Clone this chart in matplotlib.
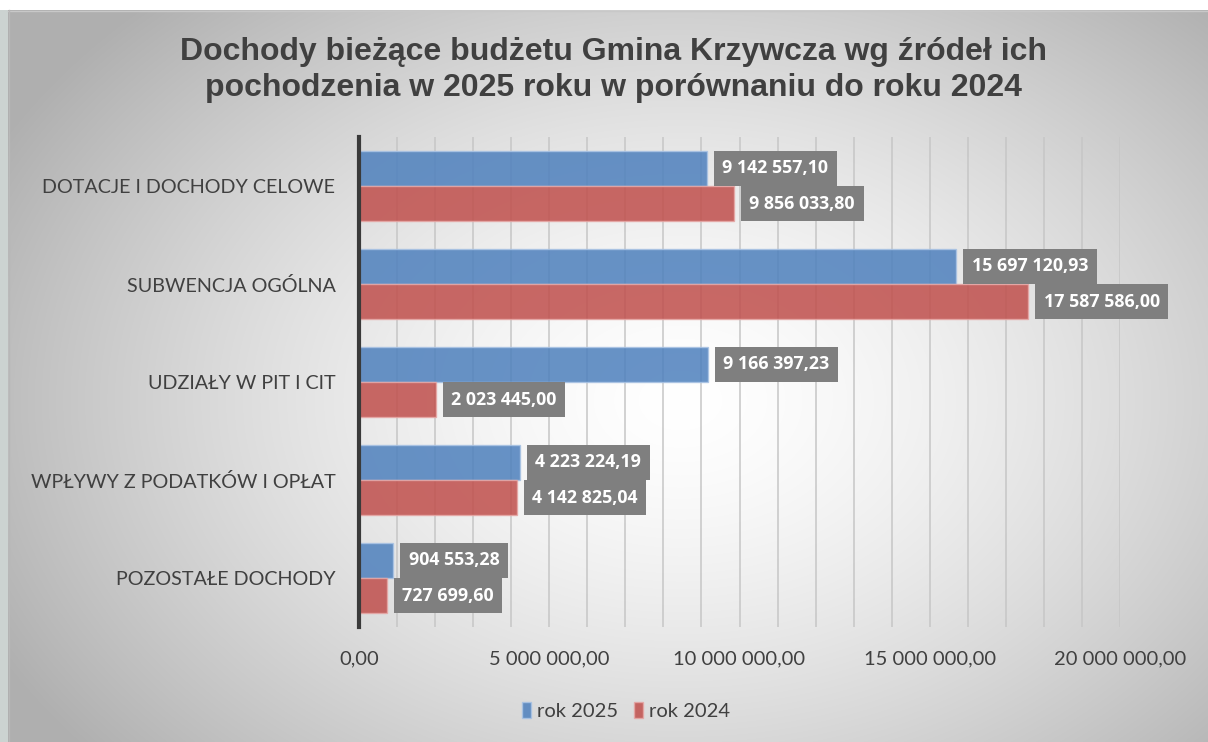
import numpy as np
import matplotlib
matplotlib.use("Agg")
import matplotlib.pyplot as plt

# ---- data ----
categories = ["DOTACJE I DOCHODY CELOWE", "SUBWENCJA OGÓLNA", "UDZIAŁY W PIT I CIT",
              "WPŁYWY Z PODATKÓW I OPŁAT", "POZOSTAŁE DOCHODY"]
rok_2025 = [9142557.10, 15697120.93, 9166397.23, 4223224.19, 904553.28]
rok_2024 = [9856033.80, 17587586.00, 2023445.00, 4142825.04, 727699.60]
series_names = ["rok 2025", "rok 2024"]
x_ticks = [0, 5000000, 10000000, 15000000, 20000000]
title = "Dochody bieżące budżetu Gmina Krzywcza wg źródeł ich\npochodzenia w 2025 roku w porównaniu do roku 2024"

def fmt(v):
    s = f"{v:,.2f}"
    return s.replace(",", " ").replace(".", ",")

W, H = 1208, 742
fig = plt.figure(figsize=(W / 100, H / 100), dpi=100)

# ---- background (radial gradient panel) ----
bg = fig.add_axes([0, 0, 1, 1], zorder=-10)
yy, xx = np.mgrid[0:H, 0:W]
d = np.sqrt(((xx - 680) / 700.0) ** 2 + ((yy - 400) / 500.0) ** 2)
val = 1.0 - 0.27 * np.clip(d, 0, 1.1) ** 1.5
img = np.dstack([val, val, val])
img[:, :8, 0] = 0.80
img[:, :8, 1] = 0.83
img[:, :8, 2] = 0.82
img[:10, :, :] = 1.0
bg.imshow(img, extent=[0, W, H, 0], aspect="auto", interpolation="bilinear")
bg.plot([8, W], [10.5, 10.5], color="#c8c8c8", lw=1)
bg.plot([8.5, 8.5], [10, H], color="#b8b8b8", lw=1)
bg.set_xlim(0, W); bg.set_ylim(H, 0)
bg.axis("off")

# ---- main axes ----
ax = fig.add_axes([359 / W, 1 - 627 / H, (1120 - 359) / W, (627 - 137) / H])
ax.patch.set_alpha(0)

y = np.arange(len(categories))
h = 0.355
blue = "#4F81BD"
red = "#C0504D"
ax.barh(y - h / 2 - 0.005, rok_2025, height=h, color=blue, alpha=0.86,
        edgecolor="#a9c3e4", linewidth=1, zorder=3, label=series_names[0])
ax.barh(y + h / 2 + 0.005, rok_2024, height=h, color=red, alpha=0.86,
        edgecolor="#e6a7a5", linewidth=1, zorder=3, label=series_names[1])

ax.set_xlim(0, 20000000)
ax.set_ylim(-0.5, len(categories) - 0.5)
ax.invert_yaxis()

ax.set_xticks(np.arange(0, 20000001, 1000000), minor=True)
ax.set_xticks(x_ticks)
ax.set_xticklabels([fmt(v) for v in x_ticks])
ax.grid(axis="x", which="both", color="#c6c6c6", lw=1.1, zorder=1)
ax.set_yticks(y)
ax.set_yticklabels(categories)

ax.tick_params(axis="x", which="both", length=0, pad=17, labelsize=14.5, labelcolor="#404040")
ax.tick_params(axis="y", length=0, pad=17, labelsize=14.2, labelcolor="#404040")
for lab in ax.get_xticklabels() + ax.get_yticklabels():
    lab.set_fontfamily("Lato")

for s in ["top", "right", "bottom"]:
    ax.spines[s].set_visible(False)
ax.spines["left"].set_color("#3a3a3a")
ax.spines["left"].set_linewidth(3)
ax.spines["left"].set_zorder(5)

# ---- data labels ----
fs = 12.8
pad = 0.48
for vals, off in [(rok_2025, -h / 2 - 0.005), (rok_2024, h / 2 + 0.005)]:
    for yi, v in zip(y, vals):
        ax.annotate(fmt(v), xy=(v, yi + off), xytext=(5.0 + pad * fs, 0),
                    textcoords="offset points", ha="left", va="center",
                    fontsize=fs, fontweight="bold", family="Open Sans", color="white",
                    bbox=dict(boxstyle=f"square,pad={pad}", fc="#7f7f7f", ec="none"),
                    zorder=6)

# ---- title ----
fig.text(613 / W, 1 - 70 / H, title, ha="center", va="center", fontsize=23,
         fontweight="bold", family="Liberation Sans", color="#404040", linespacing=1.28)

# ---- legend ----
leg = fig.legend(loc="center", bbox_to_anchor=(626 / W, 1 - 711 / H), ncol=2,
                 frameon=False, prop={"family": "Lato", "size": 14.5},
                 handlelength=0.45, handleheight=0.8, handletextpad=0.3, columnspacing=0.8)
for t in leg.get_texts():
    t.set_color("#404040")
for p in leg.get_patches():
    p.set_alpha(0.86)

fig.savefig("out.png", dpi=100)
